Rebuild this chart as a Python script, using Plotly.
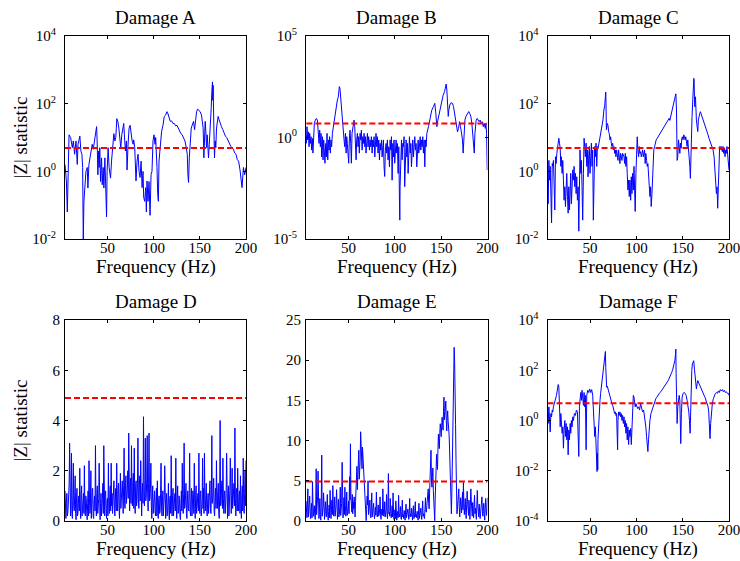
import math
import plotly.graph_objects as go

# ---------------- data ----------------
threshold = 4.9

freq_a = [4.0, 5.5, 6.5, 8.4, 10.1, 11.9, 13.0, 14.4, 15.9, 17.3,
          18.1, 19.1, 20.1, 21.2, 22.3, 23.1, 23.8, 24.5, 25.2, 26.7,
          28.1, 28.8, 29.9, 30.9, 32.4, 33.5, 34.6, 35.9, 37.1, 38.2,
          38.8, 39.6, 40.3, 41.0, 41.7, 42.5, 43.6, 44.3, 45.4, 46.1,
          47.2, 48.3, 49.0, 49.6, 50.7, 51.8, 53.3, 54.4, 55.5, 56.9,
          58.0, 59.0, 60.1, 61.2, 62.3, 63.3, 64.4, 65.5, 66.6, 67.6,
          68.3, 69.4, 70.5, 71.2, 72.3, 73.4, 74.5, 75.6, 76.7, 77.8,
          78.4, 79.5, 80.2, 80.9, 82.0, 83.1, 84.2, 85.3, 86.4, 87.5,
          88.5, 89.2, 90.3, 91.4, 92.1, 92.8, 93.9, 95.0, 96.1, 97.2,
          98.2, 99.3, 100.4, 101.5, 102.2, 102.9, 103.6, 104.4, 105.1, 105.8,
          107.3, 108.6, 110.1, 111.5, 113.0, 114.4, 115.5, 116.6, 118.0, 119.4,
          120.9, 122.3, 123.8, 125.2, 126.7, 128.0, 129.5, 130.9, 132.4, 133.9,
          135.3, 136.4, 137.1, 137.8, 138.6, 139.6, 140.7, 141.7, 143.2, 144.3,
          145.4, 146.5, 147.6, 148.9, 150.4, 151.8, 152.9, 153.6, 154.4, 155.1,
          155.8, 156.5, 157.3, 158.0, 158.7, 159.4, 160.2, 160.8, 161.5, 162.3,
          163.0, 163.7, 164.1, 164.4, 165.2, 165.9, 166.6, 167.3, 168.1, 168.8,
          169.8, 170.9, 172.0, 173.4, 174.9, 176.3, 177.7, 179.1, 180.6, 182.0,
          183.5, 184.9, 186.4, 187.7, 189.2, 190.6, 192.0, 193.5, 195.0, 195.7,
          197.2, 198.6, 200.0]
z_a = [1.6, 0.52, 0.063, 12, 10, 5, 7.9, 3.2, 7.9, 1.6,
       6.3, 10, 11, 4, 3.2, 1.3, 0.009, 0.13, 0.33, 1,
       1.3, 0.32, 1.6, 2.5, 4, 6.3, 4.5, 7.9, 13, 21,
       7.9, 0.79, 4, 1.3, 5, 0.5, 2.5, 0.4, 1.3, 0.32,
       2.5, 0.17, 0.045, 1, 5, 1.3, 0.63, 2, 6.3, 13,
       7.9, 10, 36, 30, 19, 10, 5, 12, 19, 26,
       12, 4, 7.9, 1.1, 6.3, 19, 23, 12, 7.9, 6.3,
       8.5, 5, 1.3, 0.52, 2, 3.2, 1, 0.66, 2, 0.33,
       1, 0.17, 0.13, 0.33, 0.063, 0.52, 0.13, 0.5, 0.05, 0.81,
       1, 7.9, 12, 6.3, 10, 5, 1.3, 0.21, 0.13, 2,
       7.9, 15, 23, 42, 46, 58, 50, 37, 30, 31,
       26, 26, 22, 23, 19, 15, 13, 12, 10, 7.9,
       5, 3.2, 0.79, 0.47, 2.5, 10, 19, 23, 30, 17,
       37, 58, 69, 63, 58, 46, 30, 19, 2.5, 12,
       30, 15, 5, 12, 4, 2.5, 6.3, 19, 30, 72,
       220, 440, 126, 350, 19, 2.5, 7.9, 5, 19, 30,
       42, 33, 26, 21, 17, 13, 11, 10, 7.9, 7.1,
       5.5, 5, 4.5, 3.5, 3.2, 2.2, 2, 1.1, 0.47, 0.33,
       1.3, 0.79, 1.3]

freq_b = [4.4, 5.1, 5.8, 6.5, 7.3, 8.0, 8.7, 9.4, 10.1, 10.8,
          11.5, 12.3, 13.0, 14.1, 15.2, 16.3, 17.4, 18.1, 18.8, 19.5,
          20.2, 20.9, 21.6, 22.4, 23.1, 23.8, 24.5, 25.3, 26.0, 26.7,
          27.5, 28.2, 28.9, 29.5, 30.3, 31.0, 31.7, 32.5, 33.5, 34.6,
          35.7, 36.8, 37.9, 38.9, 40.0, 40.7, 41.5, 42.2, 42.9, 43.6,
          44.4, 45.1, 45.8, 46.6, 47.3, 48.0, 48.6, 49.4, 50.1, 50.8,
          51.5, 52.3, 53.0, 53.7, 54.5, 55.2, 55.9, 56.6, 57.4, 58.1,
          58.7, 59.5, 60.2, 60.9, 61.6, 62.4, 63.1, 63.8, 64.6, 65.3,
          66.0, 66.7, 67.5, 68.2, 68.8, 69.5, 70.3, 71.0, 71.7, 72.5,
          73.2, 73.9, 74.6, 75.4, 76.1, 76.8, 77.5, 78.3, 79.0, 79.6,
          80.4, 81.1, 81.8, 82.6, 83.3, 84.0, 84.7, 85.5, 86.2, 86.9,
          87.6, 88.3, 89.0, 89.7, 90.5, 91.2, 91.9, 92.6, 93.4, 94.1,
          94.8, 95.6, 96.3, 97.0, 97.7, 98.4, 99.1, 99.8, 100.6, 101.3,
          102.0, 102.7, 103.5, 104.2, 104.9, 105.3, 105.6, 106.4, 107.1, 107.8,
          108.5, 109.2, 109.9, 110.6, 111.4, 112.1, 112.8, 113.6, 114.3, 115.0,
          115.7, 116.5, 117.2, 117.9, 118.6, 119.3, 120.0, 120.7, 121.5, 122.2,
          122.9, 123.6, 124.4, 125.1, 125.8, 126.6, 127.3, 128.0, 128.7, 129.4,
          130.1, 130.8, 131.6, 132.3, 133.0, 133.7, 134.5, 136.3, 138.0, 139.8,
          141.6, 143.1, 144.2, 145.3, 146.4, 147.7, 149.2, 150.6, 152.1, 153.6,
          154.7, 155.4, 156.1, 156.8, 157.6, 158.2, 159.3, 160.7, 162.2, 163.3,
          164.4, 165.5, 166.6, 167.6, 168.7, 169.8, 170.9, 171.9, 173.0, 173.7,
          174.5, 175.6, 176.7, 177.6, 178.7, 179.8, 180.9, 182.0, 183.1, 184.2,
          184.9, 185.7, 186.4, 187.1, 187.8, 188.9, 189.9, 191.0, 192.1, 193.2,
          194.3, 195.4, 196.5, 197.6, 198.3, 199.0, 199.7]
z_b = [0.51, 3.4, 0.76, 1.9, 0.35, 1.6, 0.51, 1.1, 0.24, 0.91,
       0.17, 1.6, 5, 7.2, 8.7, 7.2, 1.6, 0.51, 2.3, 0.35,
       1.6, 0.11, 1.1, 0.079, 0.76, 0.17, 0.054, 0.51, 0.11, 1.6,
       0.079, 0.76, 0.24, 1.1, 0.17, 0.76, 0.35, 1.6, 3.4, 7.2,
       15, 33, 71, 100, 320, 260, 71, 33, 11, 3.4,
       1.6, 0.76, 0.35, 1.6, 0.17, 1.1, 0.51, 0.11, 0.054, 0.76,
       2.3, 0.51, 0.054, 1.6, 3.4, 5, 7.2, 3.4, 0.51, 0.079,
       0.76, 1.6, 0.35, 1.1, 0.17, 1.6, 0.76, 2.3, 0.24, 1.1,
       0.51, 1.6, 0.35, 1.1, 0.17, 0.76, 1.6, 0.35, 1.1, 0.24,
       0.76, 0.35, 1.1, 0.17, 0.76, 0.35, 1.1, 0.11, 0.51, 1.6,
       0.35, 1.1, 0.17, 0.76, 0.079, 0.51, 0.24, 0.76, 0.11, 0.35,
       0.76, 0.036, 0.012, 0.24, 0.51, 0.17, 0.76, 0.079, 0.35, 0.036,
       0.76, 0.24, 1.1, 0.0079, 0.51, 0.11, 0.76, 0.054, 0.35, 0.76,
       0.17, 0.51, 0.017, 0.35, 0.00083, 0.000085, 0.0038, 0.24, 0.76, 0.079,
       0.51, 0.35, 1.1, 0.0038, 0.24, 0.76, 0.11, 0.51, 0.017, 0.35,
       1.1, 0.17, 0.51, 0.036, 0.35, 0.76, 0.11, 0.51, 1.1, 0.24,
       0.51, 0.036, 0.35, 0.76, 0.17, 0.51, 1.1, 0.24, 0.76, 0.35,
       1.1, 0.17, 0.76, 0.036, 0.76, 0.35, 1.6, 3.4, 11, 22,
       33, 48, 15, 3.4, 7.2, 15, 33, 71, 120, 180,
       260, 430, 220, 33, 11, 22, 40, 52, 48, 33,
       15, 7.2, 3.4, 1.9, 2.8, 6, 3.4, 1.6, 0.76, 0.17,
       1.6, 7.2, 11, 13, 15, 19, 15, 11, 5, 1.6,
       0.51, 0.17, 1.6, 5, 7.2, 8.7, 7.2, 6, 7.2, 5,
       6, 3.4, 5, 2.8, 5, 1.6, 0.025]

freq_c = [4.0, 4.7, 5.5, 6.2, 6.9, 7.6, 8.4, 9.1, 9.7, 10.4,
          11.2, 11.9, 12.6, 13.3, 14.1, 14.8, 15.5, 16.2, 17.0, 17.7,
          18.4, 19.0, 19.8, 20.5, 21.2, 21.9, 22.7, 23.4, 24.1, 24.8,
          25.6, 26.3, 27.0, 27.7, 28.5, 29.1, 29.8, 30.5, 31.3, 32.0,
          32.7, 33.4, 34.2, 34.9, 35.6, 36.3, 37.1, 37.8, 38.5, 39.1,
          39.9, 40.6, 41.3, 42.0, 42.8, 43.5, 44.2, 44.9, 45.7, 46.4,
          47.1, 47.8, 48.6, 49.2, 49.9, 50.6, 51.4, 52.1, 52.8, 53.5,
          54.3, 55.0, 55.7, 56.4, 57.2, 57.9, 58.5, 59.6, 60.7, 61.8,
          62.9, 63.9, 64.9, 65.8, 66.5, 66.9, 67.2, 67.6, 68.6, 69.3,
          70.0, 70.7, 71.5, 72.2, 72.9, 73.6, 74.4, 75.1, 75.8, 76.5,
          77.3, 77.9, 78.6, 79.3, 80.1, 80.8, 81.5, 82.2, 83.0, 83.7,
          84.4, 85.1, 85.9, 86.6, 87.3, 88.0, 88.7, 89.4, 90.1, 90.8,
          91.6, 92.3, 93.0, 93.8, 94.5, 95.2, 95.9, 96.7, 97.4, 98.1,
          98.7, 99.5, 100.2, 100.9, 101.6, 102.4, 103.1, 103.8, 104.5, 105.3,
          106.0, 106.7, 107.4, 108.2, 108.8, 109.5, 110.2, 111.0, 111.7, 112.4,
          113.1, 113.9, 114.6, 115.3, 116.0, 116.8, 117.5, 118.2, 118.8, 119.6,
          120.3, 121.4, 122.5, 123.5, 124.6, 125.7, 126.8, 127.8, 128.9, 130.0,
          131.1, 132.1, 133.2, 134.3, 135.4, 136.1, 137.6, 139.0, 140.0, 141.1,
          141.8, 142.6, 143.3, 144.0, 144.7, 145.5, 146.2, 146.9, 147.6, 148.3,
          149.0, 149.7, 150.4, 151.2, 151.9, 152.6, 153.3, 154.1, 154.8, 155.5,
          156.2, 157.0, 157.7, 158.3, 158.7, 159.4, 160.1, 160.9, 161.6, 162.0,
          162.3, 162.7, 163.1, 163.4, 163.8, 164.1, 164.8, 165.6, 166.3, 166.9,
          167.6, 168.4, 169.1, 169.8, 170.9, 172.0, 173.1, 174.2, 175.3, 176.3,
          177.4, 178.4, 179.5, 180.6, 181.7, 182.8, 183.9, 184.9, 185.7, 186.4,
          187.1, 187.8, 188.5, 189.2, 189.9, 190.6, 191.4, 192.1, 192.8, 193.5,
          194.3, 195.0, 195.7, 196.4, 197.1, 197.8, 198.5, 199.3, 200.0]
z_c = [1.7, 0.11, 2.1, 0.55, 1.4, 0.036, 0.03, 1.7, 1.4, 2.1,
       0.55, 0.072, 2.7, 1.7, 3.4, 5.4, 8.5, 9.5, 6.8, 4.8,
       1.4, 2.7, 0.87, 2.1, 0.55, 0.14, 0.35, 0.091, 0.28, 0.87,
       0.18, 0.058, 0.35, 0.072, 0.28, 0.87, 0.11, 0.35, 1.1, 0.55,
       1.4, 0.35, 0.87, 0.22, 0.69, 0.14, 0.35, 0.017, 0.35, 4.3,
       0.87, 2.1, 0.35, 0.036, 0.87, 9.5, 5.4, 2.7, 6.8, 1.4,
       4.3, 0.69, 3.4, 5.4, 0.87, 2.7, 6.8, 1.4, 4.3, 0.036,
       0.87, 5.4, 2.7, 6.8, 1.4, 5.4, 4.8, 6.8, 10.5, 13,
       21, 33, 65, 89, 160, 220, 100, 17, 26, 23,
       15, 13, 8.5, 10.5, 6.8, 5.4, 6.8, 4.3, 5.4, 3.4,
       4.3, 2.7, 4.3, 3.4, 2.1, 4.3, 2.7, 1.7, 3.4, 2.7,
       2.1, 3.4, 2.7, 2.7, 1.7, 3.4, 1.4, 2.7, 0.87, 0.28,
       0.55, 0.18, 0.55, 0.14, 0.69, 0.22, 0.87, 0.28, 1.4, 0.35,
       0.065, 0.87, 5.4, 10.5, 4.3, 2.7, 5.4, 3.4, 3.8, 2.7,
       3.4, 4.3, 2.7, 3.4, 4.3, 1.7, 3.4, 2.1, 1.4, 1.7,
       0.87, 0.55, 0.18, 0.35, 0.091, 0.22, 0.55, 2.7, 4.3, 5.4,
       6.8, 8.5, 9.5, 10.5, 12, 13, 15, 17, 19, 21,
       23, 26, 30, 33, 37, 32, 46, 65, 91, 130,
       160, 195, 65, 2.1, 2.7, 8.5, 5.4, 3.4, 6.8, 4.8,
       9.5, 10.5, 8.5, 12, 10.5, 8.5, 10.5, 7.6, 5.4, 8.5,
       5.4, 3.4, 1.4, 0.62, 3.4, 13, 42, 130, 350, 560,
       500, 160, 81, 130, 160, 65, 33, 21, 15, 33,
       47, 51, 58, 51, 47, 37, 30, 23, 19, 15,
       12, 9.5, 7.6, 6, 4.8, 4.3, 2.7, 0.87, 0.35, 0.22,
       0.35, 0.081, 0.35, 2.7, 5.4, 5.4, 4.3, 5.4, 3.8, 5.4,
       3.4, 4.8, 2.7, 4.3, 3.4, 5.4, 3.4, 2.1, 1.1]

freq_de = [4, 4.5, 5, 5.5, 6, 6.5, 7, 7.5, 8, 8.5, 9, 9.5, 10, 10.5, 11, 11.5, 12, 12.5, 13, 13.5,
           14, 14.5, 15, 15.5, 16, 16.5, 17, 17.5, 18, 18.5, 19, 19.5, 20, 20.5, 21, 21.5, 22, 22.5, 23, 23.5,
           24, 24.5, 25, 25.5, 26, 26.5, 27, 27.5, 28, 28.5, 29, 29.5, 30, 30.5, 31, 31.5, 32, 32.5, 33, 33.5,
           34, 34.5, 35, 35.5, 36, 36.5, 37, 37.5, 38, 38.5, 39, 39.5, 40, 40.5, 41, 41.5, 42, 42.5, 43, 43.5,
           44, 44.5, 45, 45.5, 46, 46.5, 47, 47.5, 48, 48.5, 49, 49.5, 50, 50.5, 51, 51.5, 52, 52.5, 53, 53.5,
           54, 54.5, 55, 55.5, 56, 56.5, 57, 57.5, 58, 58.5, 59, 59.5, 60, 60.5, 61, 61.5, 62, 62.5, 63, 63.5,
           64, 64.5, 65, 65.5, 66, 66.5, 67, 67.5, 68, 68.5, 69, 69.5, 70, 70.5, 71, 71.5, 72, 72.5, 73, 73.5,
           74, 74.5, 75, 75.5, 76, 76.5, 77, 77.5, 78, 78.5, 79, 79.5, 80, 80.5, 81, 81.5, 82, 82.5, 83, 83.5,
           84, 84.5, 85, 85.5, 86, 86.5, 87, 87.5, 88, 88.5, 89, 89.5, 90, 90.5, 91, 91.5, 92, 92.5, 93, 93.5,
           94, 94.5, 95, 95.5, 96, 96.5, 97, 97.5, 98, 98.5, 99, 99.5, 100, 100.5, 101, 101.5, 102, 102.5, 103, 103.5,
           104, 104.5, 105, 105.5, 106, 106.5, 107, 107.5, 108, 108.5, 109, 109.5, 110, 110.5, 111, 111.5, 112, 112.5, 113, 113.5,
           114, 114.5, 115, 115.5, 116, 116.5, 117, 117.5, 118, 118.5, 119, 119.5, 120, 120.5, 121, 121.5, 122, 122.5, 123, 123.5,
           124, 124.5, 125, 125.5, 126, 126.5, 127, 127.5, 128, 128.5, 129, 129.5, 130, 130.5, 131, 131.5, 132, 132.5, 133, 133.5,
           134, 134.5, 135, 135.5, 136, 136.5, 137, 137.5, 138, 138.5, 139, 139.5, 140, 140.5, 141, 141.5, 142, 142.5, 143, 143.5,
           144, 144.5, 145, 145.5, 146, 146.5, 147, 147.5, 148, 148.5, 149, 149.5, 150, 150.5, 151, 151.5, 152, 152.5, 153, 153.5,
           154, 154.5, 155, 155.5, 156, 156.5, 157, 157.5, 158, 158.5, 159, 159.5, 160, 160.5, 161, 161.5, 162, 162.5, 163, 163.5,
           164, 164.5, 165, 165.5, 166, 166.5, 167, 167.5, 168, 168.5, 169, 169.5, 170, 170.5, 171, 171.5, 172, 172.5, 173, 173.5,
           174, 174.5, 175, 175.5, 176, 176.5, 177, 177.5, 178, 178.5, 179, 179.5, 180, 180.5, 181, 181.5, 182, 182.5, 183, 183.5,
           184, 184.5, 185, 185.5, 186, 186.5, 187, 187.5, 188, 188.5, 189, 189.5, 190, 190.5, 191, 191.5, 192, 192.5, 193, 193.5,
           194, 194.5, 195, 195.5, 196, 196.5, 197, 197.5, 198, 198.5, 199, 199.5, 200]
z_d = [1.2, 0.4, 0.1, 0.7, 1.1, 0.2, 0.3, 0.6, 0.9, 1.5, 3.1, 0.5, 0.2, 0.8, 2.7, 0.3, 0.1, 1.0, 2.3, 0.6,
       0.4, 1.0, 1.8, 0.3, 0.05, 0.9, 1.3, 0.2, 0.3, 0.7, 1.0, 0.4, 2.1, 0.6, 0.1, 1.1, 1.4, 0.2, 0.5, 0.8,
       1.1, 0.3, 2.2, 0.5, 0.2, 1.0, 0.9, 0.4, 0.05, 0.7, 1.2, 0.2, 2.4, 0.9, 0.3, 0.6, 2.0, 0.1, 0.6, 1.2,
       1.3, 0.2, 0.1, 0.8, 1.0, 0.4, 3.0, 0.6, 0.2, 1.1, 1.4, 0.3, 0.5, 0.9, 2.3, 0.4, 0.05, 0.7, 1.1, 0.2,
       0.4, 0.9, 1.5, 0.3, 3.0, 0.6, 0.2, 1.0, 1.2, 0.5, 0.1, 0.8, 0.9, 0.2, 2.3, 0.7, 0.3, 1.1, 1.4, 0.4,
       2.3, 0.6, 1.1, 0.3, 0.6, 1.2, 1.6, 0.5, 0.2, 0.9, 1.3, 0.4, 2.3, 0.8, 0.4, 1.3, 1.5, 0.6, 0.1, 1.0,
       1.9, 0.5, 0.7, 1.2, 1.6, 0.6, 0.3, 1.4, 2.9, 0.8, 0.5, 1.5, 1.8, 0.7, 0.9, 1.3, 2.0, 0.9, 3.5, 0.6,
       0.4, 1.3, 1.7, 0.7, 3.0, 1.1, 0.6, 1.6, 1.9, 0.5, 2.9, 1.0, 0.3, 1.4, 1.6, 0.6, 0.8, 1.5, 3.3, 0.9,
       0.5, 1.4, 1.8, 0.8, 2.4, 1.2, 0.2, 1.0, 1.5, 0.7, 4.15, 1.6, 0.6, 1.2, 3.3, 0.8, 1.0, 1.7, 3.4, 1.1,
       0.4, 1.5, 3.5, 0.8, 0.9, 1.3, 2.3, 0.6, 0.1, 0.9, 1.4, 0.3, 0.5, 1.0, 1.2, 0.4, 0.2, 0.8, 1.3, 0.2,
       1.6, 0.5, 0.1, 0.9, 1.0, 0.3, 0.4, 1.1, 2.3, 0.6, 0.2, 0.8, 1.2, 0.2, 0.6, 1.0, 2.2, 0.4, 0.1, 0.7,
       1.1, 0.2, 0.3, 0.8, 1.5, 0.4, 0.05, 0.9, 1.0, 0.3, 2.6, 0.6, 0.2, 1.0, 1.3, 0.2, 0.5, 0.8, 1.1, 0.4,
       2.5, 0.6, 0.1, 0.9, 1.4, 0.3, 0.4, 1.0, 0.9, 0.2, 0.05, 0.7, 1.2, 0.4, 2.3, 0.8, 0.3, 1.1, 3.1, 0.5,
       0.6, 1.0, 1.5, 0.3, 0.1, 0.8, 1.2, 0.5, 0.4, 1.1, 2.7, 0.4, 0.2, 0.9, 1.3, 0.2, 0.7, 1.2, 1.0, 0.3,
       2.3, 0.7, 0.1, 1.0, 1.4, 0.3, 0.5, 0.9, 1.1, 0.4, 2.7, 0.6, 0.3, 1.1, 1.2, 0.2, 0.6, 0.8, 2.5, 0.5,
       1.3, 0.3, 2.7, 0.9, 0.4, 1.0, 1.5, 0.4, 0.2, 0.8, 1.1, 0.3, 0.6, 1.2, 1.6, 0.5, 0.3, 1.0, 3.4, 0.7,
       0.8, 1.1, 1.7, 0.4, 0.2, 0.9, 1.3, 0.5, 2.4, 0.8, 0.5, 1.2, 1.5, 0.3, 0.1, 1.0, 4.0, 0.6, 0.7, 1.3,
       1.6, 0.5, 2.5, 0.9, 0.3, 1.0, 1.2, 0.3, 0.6, 1.1, 2.7, 0.7, 0.1, 0.9, 1.4, 0.2, 0.5, 1.2, 2.5, 0.6,
       0.3, 1.0, 2.1, 0.5, 0.8, 1.2, 1.5, 0.6, 3.7, 0.9, 0.2, 1.1, 1.3, 0.4, 2.1, 0.8, 0.4, 1.0, 1.2, 0.3,
       1.8, 0.7, 0.1, 1.0, 1.4, 0.4, 2.5, 0.9, 0.3, 1.1, 2.0, 0.6, 2.4]
z_e = [2.5, 1.0, 0.4, 2.0, 4.0, 0.5, 1.2, 1.8, 3.1, 0.9, 0.3, 1.5, 2.2, 0.4, 4.9, 2.2, 0.6, 1.1, 1.9, 0.7,
       0.2, 2.1, 6.5, 0.8, 1.5, 3.0, 6.2, 1.2, 0.3, 1.6, 2.8, 0.5, 0.1, 2.4, 8.2, 0.6, 1.0, 1.7, 3.5, 1.0,
       0.2, 1.3, 2.4, 0.9, 0.5, 1.8, 3.3, 0.7, 0.1, 1.2, 2.0, 0.4, 3.8, 1.9, 0.3, 1.1, 2.6, 0.8, 4.4, 1.4,
       0.6, 1.5, 3.0, 0.6, 1.1, 2.0, 3.9, 0.9, 0.2, 1.3, 2.7, 0.5, 0.8, 1.8, 4.2, 0.7, 1.3, 2.2, 7.3, 1.0,
       0.4, 1.6, 2.9, 0.8, 4.2, 1.9, 0.6, 1.2, 3.6, 0.7, 1.0, 1.5, 2.5, 0.9, 5.5, 2.6, 9.6, 3.0, 1.4, 1.1,
       3.3, 0.9, 2.4, 1.5, 3.0, 1.2, 0.5, 2.4, 5.3, 4.2, 6.8, 3.9, 5.6, 6.1, 8.8, 5.2, 6.2, 7.5, 11.1, 8.3,
       7.4, 6.5, 9.2, 7.9, 6.7, 5.8, 4.8, 3.2, 2.0, 0.6, 0.05, 1.4, 3.1, 2.0, 5.0, 0.8, 1.2, 1.9, 2.6, 0.6,
       0.4, 1.6, 3.5, 0.5, 1.0, 1.3, 2.2, 0.9, 0.3, 1.1, 1.7, 0.7, 3.6, 1.4, 0.5, 1.0, 2.0, 0.6, 0.8, 1.5,
       3.0, 0.8, 0.2, 1.2, 1.5, 0.7, 4.0, 1.6, 0.6, 0.9, 2.4, 0.5, 1.0, 1.4, 3.3, 0.8, 0.3, 1.7, 5.9, 0.9,
       1.1, 0.6, 2.8, 1.2, 0.4, 0.9, 1.9, 0.5, 3.5, 1.1, 0.2, 0.7, 1.4, 0.3, 2.5, 0.9, 0.1, 0.6, 1.2, 0.4,
       3.2, 0.9, 0.5, 1.0, 1.8, 0.4, 0.2, 1.2, 2.6, 0.5, 0.8, 0.3, 1.3, 0.8, 0.1, 0.7, 2.1, 0.4, 0.6, 1.1,
       1.5, 0.7, 0.2, 1.0, 2.8, 0.5, 0.9, 0.6, 1.6, 0.9, 0.1, 1.1, 1.9, 0.3, 0.4, 1.2, 2.4, 0.5, 0.8, 0.4,
       1.2, 0.8, 0.1, 1.1, 2.2, 0.3, 0.6, 1.0, 1.6, 0.7, 0.2, 1.3, 2.5, 0.6, 0.9, 0.5, 0.3, 1.6, 2.9, 1.2,
       1.1, 1.9, 2.4, 2.8, 4.0, 2.2, 1.5, 3.6, 5.5, 6.5, 8.8, 5.1, 4.2, 5.4, 6.6, 3.8, 2.0, 0.6, 0.05, 2.7,
       5.9, 7.1, 8.3, 7.2, 6.4, 8.9, 10.8, 9.6, 9.0, 11.0, 12.1, 11.4, 10.5, 11.8, 12.9, 12.2, 11.3, 13.6, 15.4, 12.6,
       13.3, 14.1, 14.9, 12.5, 11.2, 12.9, 13.7, 12.4, 11.7, 10.8, 9.2, 6.8, 4.2, 2.0, 0.9, 3.5, 7.1, 11.8, 15.4, 19.0,
       21.6, 19.8, 17.4, 12.0, 7.5, 3.0, 0.9, 1.5, 2.5, 3.3, 4.0, 1.8, 0.5, 1.6, 2.9, 2.0, 1.0, 2.3, 3.6, 1.4,
       4.8, 2.2, 0.8, 1.7, 2.8, 1.1, 0.3, 2.0, 3.7, 2.4, 1.4, 0.7, 2.6, 1.2, 0.2, 1.9, 4.0, 2.5, 1.1, 0.6,
       2.3, 1.4, 0.4, 2.0, 3.2, 0.9, 1.6, 0.8, 0.2, 2.1, 3.8, 1.9, 1.0, 0.5, 2.1, 1.3, 0.3, 0.9, 1.5, 2.2,
       3.0, 1.2, 0.6, 1.5, 2.2, 0.9, 0.1, 1.6, 2.8, 1.5, 0.7, 1.8, 2.9]

freq_f = [4.0, 4.7, 5.5, 6.2, 6.9, 7.6, 8.4, 9.1, 9.7, 10.4,
          11.5, 12.6, 13.7, 14.8, 15.5, 16.2, 17.0, 17.7, 18.4, 19.0,
          19.8, 20.5, 21.2, 21.9, 22.7, 23.4, 24.1, 24.8, 25.6, 26.3,
          27.0, 27.7, 28.5, 29.1, 29.8, 30.5, 31.3, 32.0, 33.1, 34.2,
          35.2, 36.3, 37.1, 37.8, 38.5, 39.1, 39.9, 40.6, 41.3, 42.0,
          42.8, 43.5, 44.2, 44.9, 45.7, 46.4, 47.5, 48.6, 49.5, 50.6,
          51.7, 52.8, 53.5, 54.3, 55.0, 55.7, 56.4, 57.2, 57.5, 57.9,
          58.3, 58.5, 59.2, 60.0, 60.7, 61.4, 62.1, 62.9, 63.6, 64.3,
          65.0, 65.8, 66.1, 66.5, 66.9, 67.2, 67.9, 68.6, 69.3, 70.0,
          70.7, 71.5, 72.2, 72.9, 73.6, 74.4, 75.1, 75.8, 76.5, 77.3,
          77.9, 78.6, 79.3, 79.7, 80.1, 80.8, 81.5, 82.2, 83.0, 83.7,
          84.4, 85.1, 85.9, 86.6, 87.3, 88.0, 88.7, 89.4, 90.1, 90.8,
          91.6, 92.3, 93.0, 93.8, 94.5, 95.2, 95.9, 96.7, 97.4, 98.1,
          98.7, 99.5, 100.2, 101.3, 102.4, 103.4, 104.5, 105.6, 106.7, 107.8,
          108.8, 109.5, 110.2, 111.0, 111.7, 112.4, 113.1, 113.9, 114.6, 115.7,
          116.8, 117.8, 118.8, 119.9, 121.0, 122.1, 123.2, 124.3, 125.4, 126.4,
          127.5, 128.5, 129.6, 130.7, 131.8, 132.9, 134.0, 135.0, 136.1, 137.2,
          138.2, 139.3, 140.4, 141.5, 142.2, 142.6, 142.9, 143.3, 144.0, 144.7,
          145.5, 146.2, 146.9, 147.6, 147.9, 148.6, 149.4, 150.4, 151.5, 152.6,
          153.7, 154.8, 155.9, 156.6, 157.3, 158.0, 158.3, 159.0, 159.8, 160.5,
          160.9, 161.2, 161.9, 162.7, 163.4, 164.1, 164.8, 165.6, 166.3, 166.9,
          167.6, 168.7, 169.8, 170.9, 172.0, 173.1, 174.2, 175.3, 176.3, 177.4,
          178.1, 178.8, 179.5, 180.2, 181.0, 182.0, 183.1, 184.2, 185.3, 186.4,
          187.5, 188.5, 189.6, 190.6, 191.7, 192.8, 193.9, 195.0, 196.1, 197.1,
          198.2, 199.3, 200.0]
z_f = [1.9, 0.76, 3.5, 0.89, 0.35, 1.9, 1.4, 2.6, 2.2, 3.5,
       4.7, 6.3, 10, 18, 27, 23, 6.3, 0.56, 1.9, 1.0,
       0.31, 0.56, 0.079, 0.42, 1.0, 0.23, 0.76, 0.17, 0.56, 0.043,
       0.42, 0.17, 0.76, 0.31, 1.0, 0.56, 1.4, 1.0, 1.9, 1.6,
       2.6, 2.2, 0.23, 0.037, 3.5, 12, 13, 6.3, 16, 8.5,
       4, 13, 3.5, 10, 0.068, 10, 16, 13, 18, 13,
       17, 10, 3.5, 1.0, 0.23, 0.56, 0.091, 0.015, 0.0093, 0.05,
       0.011, 0.17, 1.0, 2.6, 6.3, 12, 21, 34, 53, 83,
       130, 240, 420, 560, 130, 29, 21, 23, 18, 13,
       12, 8.5, 7.4, 6.3, 4.7, 4.0, 3.0, 2.6, 1.9, 2.2,
       1.6, 1.9, 0.31, 0.068, 1.0, 2.2, 1.6, 2.2, 1.4, 1.9,
       1.0, 1.6, 0.76, 1.4, 0.56, 1.0, 0.31, 0.76, 0.17, 0.56,
       0.11, 0.42, 0.23, 0.48, 0.11, 1.0, 3.5, 10, 8.5, 6.3,
       3.5, 4.7, 4.0, 3.0, 3.5, 2.6, 4.7, 3.0, 2.2, 2.6,
       1.6, 1.0, 0.56, 0.23, 0.091, 0.058, 0.17, 0.56, 1.0, 1.9,
       2.6, 3.5, 4.7, 6.3, 7.4, 8.5, 10, 12, 13, 14,
       16, 17, 20, 23, 26, 31, 37, 44, 53, 67,
       83, 110, 150, 240, 420, 690, 72, 2.6, 0.76, 3.5,
       8.5, 10, 6.3, 1.0, 0.12, 1.9, 8.5, 12, 13, 12,
       10, 6.3, 4.0, 2.2, 1.0, 0.31, 0.76, 16, 97, 180,
       210, 190, 240, 110, 53, 25, 18, 29, 39, 34,
       29, 23, 18, 16, 12, 10, 8.1, 6.3, 4.7, 3.5,
       2.2, 1.0, 0.19, 0.76, 2.6, 4.7, 7.4, 10, 12, 13,
       12, 15, 13, 17, 15, 17, 14, 16, 13, 14,
       12, 12, 10]

titles = ["Damage A", "Damage B", "Damage C", "Damage D", "Damage E", "Damage F"]
x_ticks = [50, 100, 150, 200]
log_ticks_a = [1e-2, 1, 1e2, 1e4]
log_ticks_b = [1e-5, 1, 1e5]
log_ticks_f = [1e-4, 1e-2, 1, 1e2, 1e4]
lin_ticks_d = [0, 2, 4, 6, 8]
lin_ticks_e = [0, 5, 10, 15, 20, 25]


def pow_labels(vals):
    return ["10<sup>%d</sup>" % int(round(math.log10(v))) for v in vals]


# ---------------- figure ----------------
FONT = "Liberation Serif, DejaVu Serif, serif"
W, H = 740, 561
col_px = [(65, 246), (306, 487.5), (547.5, 729)]
row_px = [(36, 239), (320, 521)]

panels = [
    (freq_a, z_a, "log", [-2, 4], log_ticks_a, pow_labels(log_ticks_a)),
    (freq_b, z_b, "log", [-5, 5], log_ticks_b, pow_labels(log_ticks_b)),
    (freq_c, z_c, "log", [-2, 4], log_ticks_a, pow_labels(log_ticks_a)),
    (freq_de, z_d, "linear", [0, 8], lin_ticks_d, [str(v) for v in lin_ticks_d]),
    (freq_de, z_e, "linear", [0, 25], lin_ticks_e, [str(v) for v in lin_ticks_e]),
    (freq_f, z_f, "log", [-4, 4], log_ticks_f, pow_labels(log_ticks_f)),
]

fig = go.Figure()
layout = dict(width=W, height=H, autosize=False, template="none",
              margin=dict(l=0, r=0, t=0, b=0, pad=0, autoexpand=False),
              paper_bgcolor="white", plot_bgcolor="white",
              font=dict(family=FONT, color="black"),
              showlegend=False, annotations=[])

for i, (fx, fy, ytype, yrange, ytv, ytt) in enumerate(panels):
    r, c = divmod(i, 3)
    sfx = "" if i == 0 else str(i + 1)
    xd = [col_px[c][0] / W, col_px[c][1] / W]
    yd = [1 - row_px[r][1] / H, 1 - row_px[r][0] / H]

    fig.add_trace(go.Scatter(x=fx, y=fy, mode="lines",
                             line=dict(color="#0000ff", width=1),
                             xaxis="x" + sfx, yaxis="y" + sfx, hoverinfo="skip"))
    fig.add_trace(go.Scatter(x=[fx[0], fx[-1]], y=[threshold, threshold], mode="lines",
                             line=dict(color="#ff0000", width=2, dash="6px,3px"),
                             xaxis="x" + sfx, yaxis="y" + sfx, hoverinfo="skip"))

    common = dict(showline=True, linecolor="black", linewidth=1, mirror="ticks",
                  ticks="inside", ticklen=3, tickcolor="black", tickwidth=1,
                  showgrid=False, zeroline=False, automargin=False,
                  ticklabeloverflow="allow",
                  tickfont=dict(family=FONT, size=15, color="black"))
    layout["xaxis" + sfx] = dict(domain=xd, range=[4, 200], tickvals=x_ticks,
                                 ticktext=[str(v) for v in x_ticks], ticklabelstandoff=-5,
                                 anchor="y" + sfx, **common)
    layout["yaxis" + sfx] = dict(domain=yd, type=ytype, range=yrange, tickvals=ytv,
                                 ticktext=ytt, anchor="x" + sfx,
                                 ticklabelstandoff=(5 if ytype == "log" else 1), **common)

    xc = (xd[0] + xd[1]) / 2
    layout["annotations"].append(dict(text=titles[i], x=xc, y=yd[1], xref="paper", yref="paper",
                                      xanchor="center", yanchor="middle", yshift=18.5,
                                      showarrow=False, font=dict(family=FONT, size=19)))
    layout["annotations"].append(dict(text="Frequency (Hz)", x=xc, y=yd[0], xref="paper",
                                      yref="paper", xanchor="center", yanchor="middle",
                                      yshift=-28, showarrow=False,
                                      font=dict(family=FONT, size=19)))
    if c == 0:
        layout["annotations"].append(dict(text="|Z| statistic", x=xd[0], y=(yd[0] + yd[1]) / 2,
                                          xref="paper", yref="paper", xanchor="center",
                                          yanchor="middle", xshift=-45, textangle=-90,
                                          showarrow=False, font=dict(family=FONT, size=19)))

fig.update_layout(**layout)
fig.write_html("out.html", config={"displayModeBar": False},
               post_script="document.body.style.margin='0px';")
